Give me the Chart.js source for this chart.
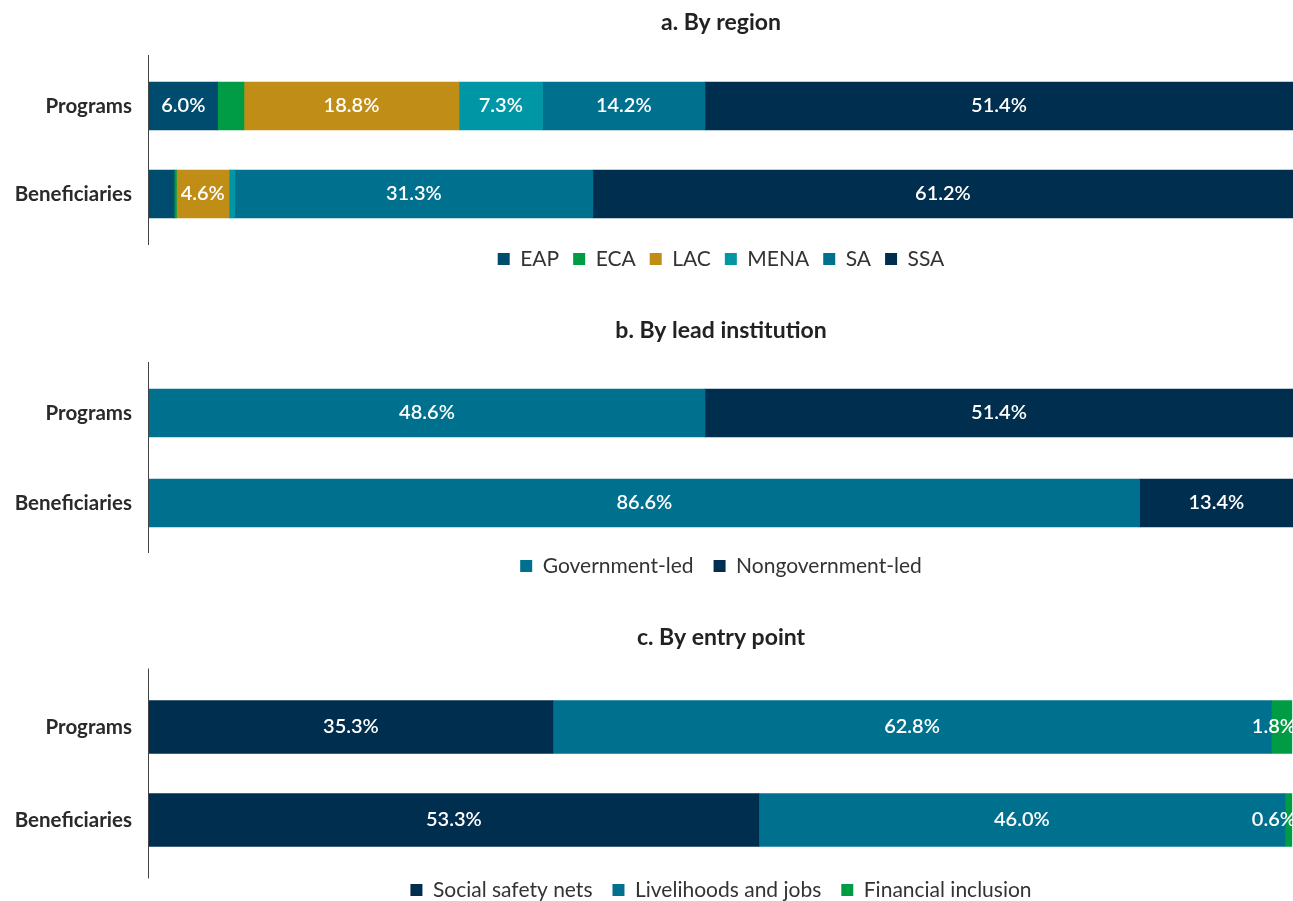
<!DOCTYPE html>
<html>
<head>
<meta charset="utf-8">
<script src="https://cdn.jsdelivr.net/npm/chart.js@4"></script>
<style>
  html, body { margin: 0; padding: 0; background: #fff; overflow: hidden; }
  .box { position: absolute; left: 0; width: 1293px; }
</style>
</head>
<body>
<div class="box" style="top:0;height:290px"><canvas id="chartA"></canvas></div>
<div class="box" style="top:290px;height:310px"><canvas id="chartB"></canvas></div>
<div class="box" style="top:600px;height:318px"><canvas id="chartC"></canvas></div>
<script>
const rows = ["Programs", "Beneficiaries"];

// a. By region
const regionNames = ["EAP", "ECA", "LAC", "MENA", "SA", "SSA"];
const regionPrograms = [6.0, 2.3, 18.8, 7.3, 14.2, 51.4];
const regionBeneficiaries = [2.2, 0.2, 4.6, 0.5, 31.3, 61.2];

// b. By lead institution
const leadNames = ["Government-led", "Nongovernment-led"];
const leadPrograms = [48.6, 51.4];
const leadBeneficiaries = [86.6, 13.4];

// c. By entry point
const entryNames = ["Social safety nets", "Livelihoods and jobs", "Financial inclusion"];
const entryPrograms = [35.3, 62.8, 1.8];
const entryBeneficiaries = [53.3, 46.0, 0.6];

const C = {
  eap: "#004c6e", eca: "#009b45", lac: "#c08e17",
  mena: "#0096a6", sa: "#00708f", ssa: "#002e4e"
};

Chart.defaults.font.family = "Lato, sans-serif";

// white % labels inside the segments
const barLabels = {
  id: "barLabels",
  afterDatasetsDraw(chart, args, opts) {
    const { ctx, chartArea: area } = chart;
    ctx.save();
    ctx.beginPath();
    ctx.rect(area.left, area.top - 60, area.width, area.height + 120);
    ctx.clip();
    ctx.font = "600 20px Lato, sans-serif";
    ctx.fillStyle = "#fff";
    ctx.textAlign = "center";
    ctx.textBaseline = "middle";
    chart.data.datasets.forEach((ds, i) => {
      chart.getDatasetMeta(i).data.forEach((bar, j) => {
        const v = ds.data[j];
        if (v < (opts.min || 0)) return;
        const text = v.toFixed(1) + "%";
        const w = ctx.measureText(text).width;
        let cx = (bar.x + bar.base) / 2;
        if (cx + w / 2 > area.right) cx = area.right + 3 - w / 2;
        ctx.fillText(text, cx, bar.y);
      });
    });
    ctx.restore();
  }
};

// vertical axis line, a bit longer than the plot area
const axisLine = {
  id: "axisLine",
  afterDraw(chart, args, opts) {
    const { ctx, chartArea: a } = chart;
    ctx.save();
    ctx.strokeStyle = "#444";
    ctx.lineWidth = 1;
    ctx.beginPath();
    ctx.moveTo(a.left - 0.5, a.top - (opts.top || 0));
    ctx.lineTo(a.left - 0.5, a.bottom + (opts.bottom || 0));
    ctx.stroke();
    ctx.restore();
  }
};

// nudge the legend up
const legendShift = {
  id: "legendShift",
  afterLayout(chart, args, opts) {
    const lg = chart.legend;
    if (lg && opts.dy) {
      lg.top += opts.dy;
      lg.bottom += opts.dy;
    }
  }
};

Chart.register(barLabels, axisLine, legendShift);

function makeChart(id, title, names, programs, beneficiaries, colors, cfg) {
  const datasets = names.map((n, i) => ({
    label: n,
    data: [programs[i], beneficiaries[i]],
    backgroundColor: colors[i],
    borderWidth: 0,
    barThickness: cfg.thick
  }));
  return new Chart(document.getElementById(id), {
    type: "bar",
    data: { labels: rows, datasets },
    options: {
      indexAxis: "y",
      responsive: true,
      maintainAspectRatio: false,
      animation: false,
      layout: { padding: { left: 0, right: 0, top: 0, bottom: cfg.pb } },
      scales: {
        x: { stacked: true, display: false, min: 0, max: 100 },
        y: {
          stacked: true,
          grid: { display: false, drawTicks: false },
          border: { display: false },
          ticks: { padding: 17, color: "#2a2a2a", font: { size: 20.5, weight: "bold" } },
          afterFit: (s) => { s.width = 149; }
        }
      },
      plugins: {
        title: {
          display: true,
          text: title,
          fullSize: false,
          color: "#222",
          font: { size: 23, weight: "bold" },
          padding: { top: cfg.tTop, bottom: cfg.tBottom }
        },
        legend: {
          position: "bottom",
          fullSize: false,
          labels: { boxWidth: 12, boxHeight: 12, padding: cfg.lp, color: "#333", font: { size: 21 } }
        },
        tooltip: { enabled: false },
        barLabels: { min: cfg.min },
        axisLine: { top: cfg.axTop, bottom: cfg.axBottom },
        legendShift: { dy: cfg.dy }
      }
    }
  });
}

makeChart("chartA", "a. By region", regionNames, regionPrograms, regionBeneficiaries,
  [C.eap, C.eca, C.lac, C.mena, C.sa, C.ssa],
  { thick: 48, pb: 7, lp: 14, tTop: 9.2, tBottom: 25.2, min: 3, axTop: 7, axBottom: 7, dy: -3.5 });

makeChart("chartB", "b. By lead institution", leadNames, leadPrograms, leadBeneficiaries,
  [C.sa, C.ssa],
  { thick: 48, pb: 1, lp: 20, tTop: 27.2, tBottom: 23.2, min: 0, axTop: 6, axBottom: 5, dy: -12.5 });

makeChart("chartC", "c. By entry point", entryNames, entryPrograms, entryBeneficiaries,
  [C.ssa, C.sa, C.eca],
  { thick: 53, pb: 0.5, lp: 20, tTop: 24.2, tBottom: 28.7, min: 0, axTop: 12, axBottom: 12, dy: -7 });
</script>
</body>
</html>
